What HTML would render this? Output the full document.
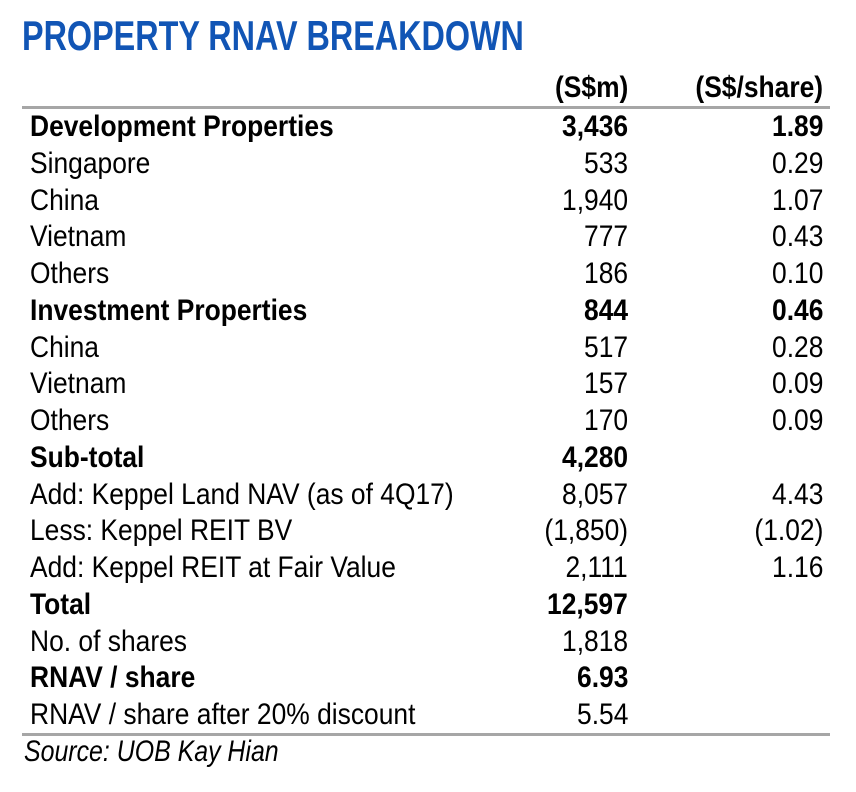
<!DOCTYPE html>
<html><head><meta charset="utf-8"><style>
body{margin:0;width:856px;height:792px;background:#fff;position:relative;overflow:hidden;font-family:"Liberation Sans",sans-serif;color:#000}
.t{position:absolute;white-space:nowrap;line-height:1}
.title{left:22px;top:15px;font-size:42px;font-weight:bold;color:#1155b5;transform:scaleX(0.77);transform-origin:left top}
.rule{position:absolute;left:22px;width:808px;height:3px;background:#a6a6a6}
.lbl{left:30px;font-size:30px;transform:scaleX(0.88);transform-origin:left top}
.v1{right:228px;font-size:30px;text-align:right;transform:scaleX(0.88);transform-origin:right top}
.v2{right:33px;font-size:30px;text-align:right;transform:scaleX(0.88);transform-origin:right top}
.b{font-weight:bold}
.src{left:24px;top:737px;font-size:30px;font-style:italic;transform:scaleX(0.83);transform-origin:left top}
</style></head><body>
<div class="t title">PROPERTY RNAV BREAKDOWN</div>
<div class="t v1 b" style="top:73px">(S$m)</div>
<div class="t v2 b" style="top:73px">(S$/share)</div>
<div class="rule" style="top:106px"></div>
<div id="rows"></div>
<div class="rule" style="top:733px"></div>
<div class="t src">Source: UOB Kay Hian</div>
<script>
const labels=["Development Properties","Singapore","China","Vietnam","Others","Investment Properties","China","Vietnam","Others","Sub-total","Add: Keppel Land NAV (as of 4Q17)","Less: Keppel REIT BV","Add: Keppel REIT at Fair Value","Total","No. of shares","RNAV / share","RNAV / share after 20% discount"];
const valuesM=["3,436","533","1,940","777","186","844","517","157","170","4,280","8,057","(1,850)","2,111","12,597","1,818","6.93","5.54"];
const valuesShare=["1.89","0.29","1.07","0.43","0.10","0.46","0.28","0.09","0.09","","4.43","(1.02)","1.16","","","",""];
const bold=[1,0,0,0,0,1,0,0,0,1,0,0,0,1,0,1,0];
const c=document.getElementById('rows');
labels.forEach((l,i)=>{
  const top=112+i*36.75;
  [[l,'lbl','row-label'],[valuesM[i],'v1','value-sgdm'],[valuesShare[i],'v2','value-per-share']].forEach(([txt,cls,nm])=>{
    if(!txt)return;
    const d=document.createElement('div');
    d.className='t '+cls+(bold[i]?' b':'');
    d.style.top=top+'px';
    d.textContent=txt;
    
    
    c.appendChild(d);
  });
});
</script>
</body></html>
